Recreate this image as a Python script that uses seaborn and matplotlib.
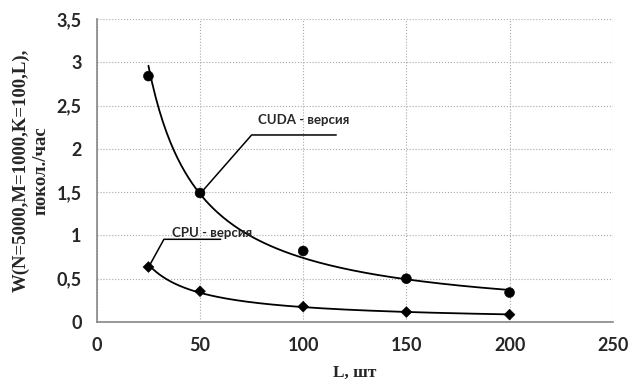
import numpy as np
import pandas as pd
import matplotlib
matplotlib.use("Agg")
import matplotlib.pyplot as plt
import seaborn as sns

# values
L_values = [25, 50, 100, 150, 200]
cuda_speed = [2.84, 1.49, 0.82, 0.50, 0.34]
cpu_speed = [0.635, 0.355, 0.177, 0.115, 0.085]
x_ticks = [0, 50, 100, 150, 200, 250]
y_ticks = [0, 0.5, 1, 1.5, 2, 2.5, 3, 3.5]


def power_trend(x, y, n=200):
    # same kind of trend line as the spreadsheet's power fit
    b, ln_a = np.polyfit(np.log(x), np.log(y), 1)
    xs = np.linspace(min(x), max(x), n)
    return pd.DataFrame({"L": xs, "W": np.exp(ln_a) * xs ** b})


def comma(v):
    s = f"{v:g}"
    return s.replace(".", ",")


def main():
    sns.set_style("white")
    plt.rcParams["font.family"] = ["Lato", "DejaVu Sans"]

    fig = plt.figure(figsize=(6.33, 3.87), dpi=100)
    ax = fig.add_axes([0.153, 0.168, 0.815, 0.783])

    points = pd.DataFrame({"L": L_values * 2,
                           "W": cuda_speed + cpu_speed,
                           "series": ["CUDA"] * 5 + ["CPU"] * 5})

    sns.lineplot(data=power_trend(L_values, cuda_speed), x="L", y="W", ax=ax,
                 color="black", lw=1.3)
    sns.lineplot(data=power_trend(L_values, cpu_speed), x="L", y="W", ax=ax,
                 color="black", lw=1.3)
    sns.scatterplot(data=points, x="L", y="W", style="series",
                    markers={"CUDA": "o", "CPU": "D"},
                    size="series", sizes={"CUDA": 50, "CPU": 30},
                    color="black", edgecolor="black", legend=False, ax=ax, zorder=3)

    # leader lines and labels
    ax.plot([50, 75, 116], [1.48, 2.16, 2.16], color="black", lw=1.1)
    ax.text(78, 2.33, "CUDA - версия", fontsize=9.5, fontweight="bold", va="center")
    ax.plot([25, 32.5, 60], [0.63, 0.955, 0.955], color="black", lw=1.1)
    ax.text(36.5, 1.03, "CPU - версия", fontsize=9.5, fontweight="bold", va="center")

    ax.set_xlim(0, 250)
    ax.set_ylim(0, 3.5)
    ax.set_xticks(x_ticks)
    ax.set_yticks(y_ticks)
    ax.set_xticklabels([comma(v) for v in x_ticks], fontsize=13, fontweight="bold")
    ax.set_yticklabels([comma(v) for v in y_ticks], fontsize=13, fontweight="bold")
    ax.tick_params(axis="both", direction="out", length=5, width=1, color="#868686", pad=6)

    ax.grid(True, linestyle=":", color="#a8a8a8", lw=0.8)
    for side in ["top", "right"]:
        ax.spines[side].set_visible(False)
    for side in ["left", "bottom"]:
        ax.spines[side].set_color("#868686")
        ax.spines[side].set_linewidth(1.2)

    ax.set_xlabel("L, шт", fontsize=12.5, fontweight="bold",
                  family=["Liberation Serif", "DejaVu Serif"], labelpad=8)
    ax.set_ylabel("W(N=5000,M=1000,K=100,L),\nпокол./час", fontsize=13.5, fontweight="bold",
                  family=["Liberation Serif", "DejaVu Serif"], labelpad=5)

    fig.savefig("out.png", dpi=100)


if __name__ == "__main__":
    main()
